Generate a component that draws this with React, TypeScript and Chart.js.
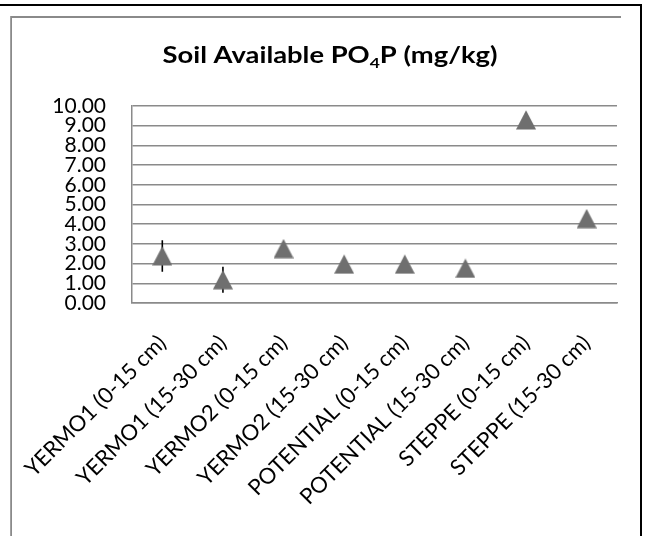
import React, { useEffect, useRef } from 'react';
import { Chart, registerables } from 'chart.js';

Chart.register(...registerables);

const categories = [
  'YERMO1 (0-15 cm)',
  'YERMO1 (15-30 cm)',
  'YERMO2 (0-15 cm)',
  'YERMO2 (15-30 cm)',
  'POTENTIAL (0-15 cm)',
  'POTENTIAL (15-30 cm)',
  'STEPPE (0-15 cm)',
  'STEPPE (15-30 cm)',
];
const meanValues = [2.39, 1.18, 2.76, 1.97, 1.97, 1.76, 9.29, 4.28];
const errorValues = [0.8, 0.66, 0.3, 0.25, 0.25, 0.2, 0.35, 0.3];
const yMin = 0;
const yMax = 10;
const yStep = 1;
const titleMain = 'Soil Available PO';
const titleSub = '4';
const titleEnd = 'P (mg/kg)';

const FONT = 'Lato';

function makeTriangle(): HTMLCanvasElement {
  const c = document.createElement('canvas');
  c.width = 20;
  c.height = 20;
  const g = c.getContext('2d')!;
  g.fillStyle = '#6f6f6f';
  g.beginPath();
  g.moveTo(10, 0.3);
  g.lineTo(20, 19.6);
  g.lineTo(0, 19.6);
  g.closePath();
  g.fill();
  return c;
}

const framePlugin = {
  id: 'framePlugin',
  beforeDraw(chart: any) {
    const ctx = chart.ctx;
    ctx.save();
    ctx.fillStyle = '#ffffff';
    ctx.fillRect(0, 0, chart.width, chart.height);
    ctx.strokeStyle = '#000000';
    ctx.lineWidth = 2;
    ctx.beginPath();
    ctx.moveTo(0, 5);
    ctx.lineTo(642, 5);
    ctx.moveTo(641, 4);
    ctx.lineTo(641, chart.height);
    ctx.stroke();
    ctx.strokeStyle = '#8a8a8a';
    ctx.lineWidth = 1.8;
    ctx.beginPath();
    ctx.moveTo(10.2, 17);
    ctx.lineTo(621, 17);
    ctx.moveTo(11.1, 16.1);
    ctx.lineTo(11.1, chart.height);
    ctx.stroke();
    ctx.restore();
  },
};

const titlePlugin = {
  id: 'titlePlugin',
  afterDraw(chart: any) {
    const ctx = chart.ctx;
    ctx.save();
    ctx.fillStyle = '#000000';
    ctx.textBaseline = 'alphabetic';
    ctx.textAlign = 'left';
    const big = `bold 22px ${FONT}`;
    const small = `bold 14px ${FONT}`;
    ctx.font = big;
    const w1 = ctx.measureText(titleMain).width;
    const w3 = ctx.measureText(titleEnd).width;
    ctx.font = small;
    const w2 = ctx.measureText(titleSub).width;
    const total = w1 + w2 + w3;
    const targetWidth = 335;
    const sx = targetWidth / total;
    ctx.translate(330 - targetWidth / 2, 63);
    ctx.scale(sx, 1);
    let x = 0;
    ctx.font = big;
    ctx.fillText(titleMain, x, 0);
    x += w1;
    ctx.font = small;
    ctx.fillText(titleSub, x, 4.5);
    x += w2;
    ctx.font = big;
    ctx.fillText(titleEnd, x, 0);
    ctx.restore();
  },
};

const errorBarPlugin = {
  id: 'errorBarPlugin',
  beforeDatasetsDraw(chart: any) {
    const ctx = chart.ctx;
    const xs = chart.scales.x;
    const ys = chart.scales.y;
    ctx.save();
    ctx.strokeStyle = '#000000';
    ctx.lineWidth = 1.6;
    ctx.beginPath();
    meanValues.forEach((v, i) => {
      const e = errorValues[i];
      const px = xs.getPixelForValue(i);
      ctx.moveTo(px, ys.getPixelForValue(v + e));
      ctx.lineTo(px, ys.getPixelForValue(v - e));
    });
    ctx.stroke();
    ctx.restore();
  },
};

export default function App() {
  const ref = useRef<HTMLCanvasElement | null>(null);

  useEffect(() => {
    if (!ref.current) return;
    const tri = makeTriangle();
    const chart = new Chart(ref.current, {
      type: 'line',
      data: {
        labels: categories,
        datasets: [
          {
            label: 'Soil Available PO4P',
            data: meanValues,
            showLine: false,
            pointStyle: tri as any,
            pointRadius: 10,
            pointHoverRadius: 10,
            backgroundColor: '#6f6f6f',
            borderColor: '#6f6f6f',
          },
        ],
      },
      options: {
        responsive: false,
        animation: false,
        events: [],
        layout: { padding: { top: 106, left: 0, right: 29, bottom: 0 } },
        plugins: {
          legend: { display: false },
          title: { display: false },
          tooltip: { enabled: false },
        },
        scales: {
          x: {
            type: 'category',
            offset: true,
            grid: { display: false, drawTicks: false },
            border: { display: true, color: '#8a8a8a', width: 1.5 },
            ticks: {
              autoSkip: false,
              maxRotation: 45,
              minRotation: 45,
              padding: 27,
              color: '#000000',
              font: { family: FONT, size: 22 },
            },
            afterFit(scale: any) {
              scale.height = 233;
              scale.paddingLeft = 0;
              scale.paddingRight = 0;
            },
          },
          y: {
            min: yMin,
            max: yMax,
            grid: { color: '#8a8a8a', lineWidth: 1.5, drawTicks: false },
            border: { display: true, color: '#8a8a8a', width: 1.5 },
            ticks: {
              stepSize: yStep,
              autoSkip: false,
              padding: 26,
              color: '#000000',
              font: { family: FONT, size: 21 },
              callback: (v: any) => Number(v).toFixed(2),
            },
            afterFit(scale: any) {
              scale.width = 132;
              scale.paddingTop = 0;
              scale.paddingBottom = 0;
            },
          },
        },
      },
      plugins: [framePlugin, errorBarPlugin, titlePlugin],
    });
    return () => chart.destroy();
  }, []);

  return (
    <div style={{ position: 'absolute', left: 0, top: 0, width: 646, height: 536, background: '#fff' }}>
      <canvas ref={ref} width={646} height={536} style={{ display: 'block' }} />
    </div>
  );
}
